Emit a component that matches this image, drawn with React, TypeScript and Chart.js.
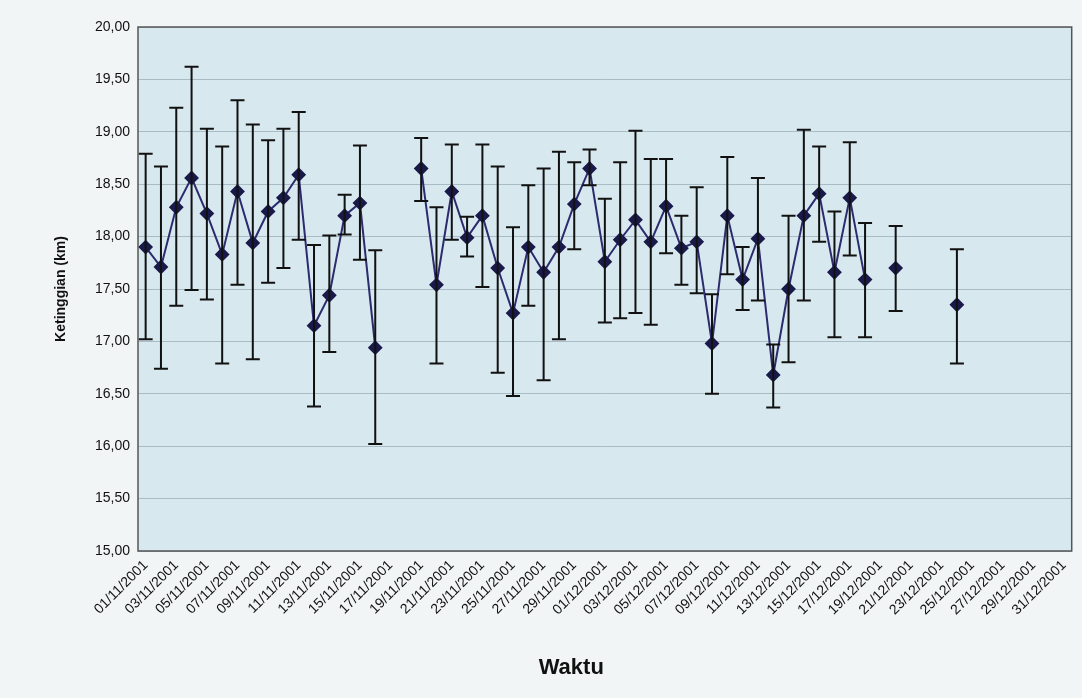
import React, { useEffect, useRef } from "react";
import { Chart, registerables } from "chart.js";

Chart.register(...registerables);

const dates: string[] = [
  "01/11/2001","02/11/2001","03/11/2001","04/11/2001","05/11/2001","06/11/2001","07/11/2001","08/11/2001","09/11/2001","10/11/2001",
  "11/11/2001","12/11/2001","13/11/2001","14/11/2001","15/11/2001","16/11/2001","17/11/2001","18/11/2001","19/11/2001","20/11/2001",
  "21/11/2001","22/11/2001","23/11/2001","24/11/2001","25/11/2001","26/11/2001","27/11/2001","28/11/2001","29/11/2001","30/11/2001",
  "01/12/2001","02/12/2001","03/12/2001","04/12/2001","05/12/2001","06/12/2001","07/12/2001","08/12/2001","09/12/2001","10/12/2001",
  "11/12/2001","12/12/2001","13/12/2001","14/12/2001","15/12/2001","16/12/2001","17/12/2001","18/12/2001","19/12/2001","20/12/2001",
  "21/12/2001","22/12/2001","23/12/2001","24/12/2001","25/12/2001","26/12/2001","27/12/2001","28/12/2001","29/12/2001","30/12/2001",
  "31/12/2001",
];

const heights: (number | null)[] = [
  17.90, 17.71, 18.28, 18.56, 18.22, 17.83, 18.43, 17.94, 18.24, 18.37,
  18.59, 17.15, 17.44, 18.20, 18.32, 16.94, null, null, 18.65, 17.54,
  18.43, 17.99, 18.20, 17.70, 17.27, 17.90, 17.66, 17.90, 18.31, 18.65,
  17.76, 17.97, 18.16, 17.95, 18.29, 17.89, 17.95, 16.98, 18.20, 17.59,
  17.98, 16.68, 17.50, 18.20, 18.41, 17.66, 18.37, 17.59, null, 17.70,
  null, null, null, 17.35, null, null, null, null, null, null,
  null,
];

const upper: (number | null)[] = [
  18.79, 18.67, 19.23, 19.62, 19.03, 18.86, 19.30, 19.07, 18.92, 19.03,
  19.19, 17.92, 18.01, 18.40, 18.87, 17.87, null, null, 18.94, 18.28,
  18.88, 18.19, 18.88, 18.67, 18.09, 18.49, 18.65, 18.81, 18.71, 18.83,
  18.36, 18.71, 19.01, 18.74, 18.74, 18.20, 18.47, 17.45, 18.76, 17.90,
  18.56, 16.97, 18.20, 19.02, 18.86, 18.24, 18.90, 18.13, null, 18.10,
  null, null, null, 17.88, null, null, null, null, null, null,
  null,
];

const lower: (number | null)[] = [
  17.02, 16.74, 17.34, 17.49, 17.40, 16.79, 17.54, 16.83, 17.56, 17.70,
  17.97, 16.38, 16.90, 18.02, 17.78, 16.02, null, null, 18.34, 16.79,
  17.97, 17.81, 17.52, 16.70, 16.48, 17.34, 16.63, 17.02, 17.88, 18.49,
  17.18, 17.22, 17.27, 17.16, 17.84, 17.54, 17.46, 16.50, 17.64, 17.30,
  17.39, 16.37, 16.80, 17.39, 17.95, 17.04, 17.82, 17.04, null, 17.29,
  null, null, null, 16.79, null, null, null, null, null, null,
  null,
];

const yTitle = "Ketinggian (km)";
const xTitle = "Waktu";

const errorBarPlugin = {
  id: "errorBars",
  afterDatasetsDraw(chart: any) {
    const ctx = chart.ctx;
    const xs = chart.scales.x;
    const ys = chart.scales.y;
    ctx.save();
    ctx.strokeStyle = "#111111";
    ctx.lineWidth = 2;
    for (let i = 0; i < dates.length; i++) {
      const hi = upper[i];
      const lo = lower[i];
      if (hi == null || lo == null) continue;
      const x = xs.getPixelForValue(i);
      const yh = ys.getPixelForValue(hi);
      const yl = ys.getPixelForValue(lo);
      ctx.beginPath();
      ctx.moveTo(x, yh);
      ctx.lineTo(x, yl);
      ctx.moveTo(x - 7, yh);
      ctx.lineTo(x + 7, yh);
      ctx.moveTo(x - 7, yl);
      ctx.lineTo(x + 7, yl);
      ctx.stroke();
    }
    ctx.restore();
  },
};

const areaPlugin = {
  id: "area",
  beforeDraw(chart: any) {
    const { ctx, chartArea } = chart;
    ctx.save();
    ctx.fillStyle = "#d8e8ef";
    ctx.fillRect(chartArea.left, chartArea.top, chartArea.right - chartArea.left, chartArea.bottom - chartArea.top);
    ctx.restore();
  },
  afterDraw(chart: any) {
    const { ctx, chartArea } = chart;
    ctx.save();
    ctx.strokeStyle = "#555555";
    ctx.lineWidth = 1.5;
    ctx.strokeRect(chartArea.left, chartArea.top, chartArea.right - chartArea.left, chartArea.bottom - chartArea.top);
    ctx.fillStyle = "#111111";
    ctx.font = "bold 22px Arial, 'Liberation Sans', sans-serif";
    ctx.textAlign = "center";
    ctx.textBaseline = "middle";
    const cx = chartArea.left + (chartArea.right - chartArea.left) * 0.464;
    ctx.fillText(xTitle, cx, 668);
    ctx.restore();
  },
};

export default function App() {
  const ref = useRef<HTMLCanvasElement | null>(null);
  useEffect(() => {
    if (!ref.current) return;
    const chart = new Chart(ref.current, {
      type: "line",
      data: {
        labels: dates,
        datasets: [
          {
            data: heights,
            borderColor: "#2b2b6e",
            borderWidth: 2,
            backgroundColor: "#1a1a4a",
            pointBackgroundColor: "#1a1a4a",
            pointBorderColor: "#1a1a4a",
            pointStyle: "rectRot",
            pointRadius: 6,
            spanGaps: false,
            tension: 0,
          },
        ],
      },
      options: {
        animation: false,
        responsive: false,
        maintainAspectRatio: false,
        layout: { padding: { top: 27, right: 6, left: 0, bottom: 0 } },
        plugins: { legend: { display: false }, tooltip: { enabled: false } },
        scales: {
          x: {
            type: "category",
            offset: true,
            grid: { display: false, drawTicks: false },
            border: { display: false },
            afterFit: (s: any) => { s.height = 147; },
            ticks: {
              autoSkip: false,
              maxRotation: 45,
              minRotation: 45,
              padding: 6,
              color: "#111111",
              font: { family: "Arial, 'Liberation Sans', sans-serif", size: 14 },
              callback: (_v: any, i: number) => (i % 2 === 0 ? dates[i] : ""),
            },
          },
          y: {
            min: 15,
            max: 20,
            afterFit: (s: any) => { s.width = 138; },
            grid: { color: "#a9bcc6", lineWidth: 1, drawTicks: false },
            border: { display: false },
            ticks: {
              stepSize: 0.5,
              padding: 8,
              color: "#111111",
              font: { family: "Arial, 'Liberation Sans', sans-serif", size: 14 },
              callback: (v: any) => Number(v).toFixed(2).replace(".", ","),
            },
            title: {
              display: true,
              text: yTitle,
              color: "#111111",
              padding: { top: 53, bottom: 0 },
              font: { family: "Arial, 'Liberation Sans', sans-serif", size: 14, weight: "bold" },
            },
          },
        },
      },
      plugins: [areaPlugin, errorBarPlugin],
    });
    return () => chart.destroy();
  }, []);
  return (
    <div style={{ position: "absolute", left: 0, top: 0, width: 1082, height: 698, background: "#f1f5f6" }}>
      <canvas ref={ref} width={1082} height={698} style={{ display: "block" }} />
    </div>
  );
}
